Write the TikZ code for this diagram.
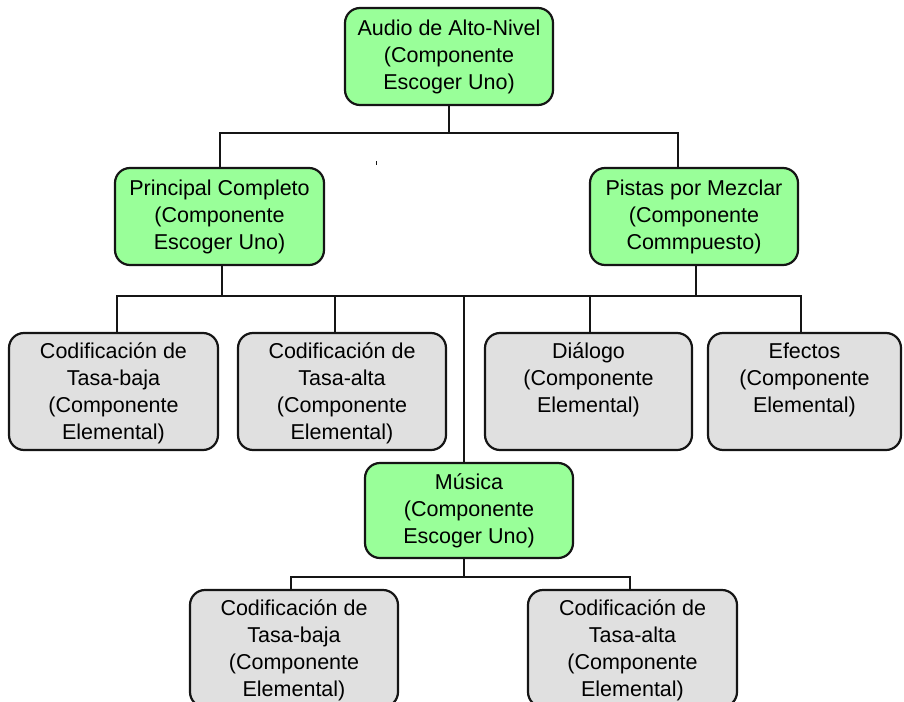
\documentclass[tikz,border=0pt]{standalone}
\usepackage{fontspec}
\setmainfont{Liberation Sans}
\usetikzlibrary{calc}
\definecolor{choicegreen}{HTML}{99FF99}
\definecolor{elemgray}{HTML}{E0E0E0}
\definecolor{ink}{HTML}{151515}
\begin{document}
\begin{tikzpicture}[x=1pt,y=-1pt,
  box/.style={draw=ink, line width=2.2pt, rounded corners=15pt, inner sep=0pt},
  choice/.style={box, fill=choicegreen, align=center,
    font=\fontsize{21.5}{27}\selectfont},
  elem/.style={box, fill=elemgray},
  boxtext/.style={align=center, inner sep=0pt, anchor=north,
    font=\fontsize{21.5}{27}\selectfont},
  wire/.style={draw=ink, line width=2.1pt}]
\useasboundingbox (0,0) rectangle (904,701);
\clip (0,0) rectangle (904,701);

% choice (green) components
\node[choice, minimum width=208, minimum height=97] (top) at (449,56.5)
  {Audio de Alto-Nivel\\(Componente\\Escoger Uno)};
\node[choice, minimum width=209, minimum height=97] (pc) at (219.5,216.5)
  {Principal Completo\\(Componente\\Escoger Uno)};
\node[choice, minimum width=208, minimum height=97] (pm) at (694,216.5)
  {Pistas por Mezclar\\(Componente\\Commpuesto)};
\node[choice, minimum width=208, minimum height=95] (mus) at (469,510.5)
  {Música\\(Componente\\Escoger Uno)};

% elementary (gray) components
\node[elem, minimum width=209, minimum height=117] (lo1) at (113.5,391.5) {};
\node[elem, minimum width=208, minimum height=117] (hi1) at (342,391.5) {};
\node[elem, minimum width=207, minimum height=117] (dia) at (588.5,391.5) {};
\node[elem, minimum width=193, minimum height=117] (efe) at (804.5,391.5) {};
\node[elem, minimum width=208, minimum height=117] (lo2) at (294,648.5) {};
\node[elem, minimum width=209, minimum height=117] (hi2) at (632.5,648.5) {};

\node[boxtext] (lo1t) at ($(lo1.north)+(0,10.5)$)
  {Codificación de\\Tasa-baja\\(Componente\\Elemental)};
\node[boxtext] (hi1t) at ($(hi1.north)+(0,10.5)$)
  {Codificación de\\Tasa-alta\\(Componente\\Elemental)};
\node[boxtext] (diat) at ($(dia.north)+(0,10.5)$)
  {Diálogo\\(Componente\\Elemental)};
\node[boxtext] (efet) at ($(efe.north)+(0,10.5)$)
  {Efectos\\(Componente\\Elemental)};
\node[boxtext] (lo2t) at ($(lo2.north)+(0,10.5)$)
  {Codificación de\\Tasa-baja\\(Componente\\Elemental)};
\node[boxtext] (hi2t) at ($(hi2.north)+(0,10.5)$)
  {Codificación de\\Tasa-alta\\(Componente\\Elemental)};

% bus levels
\coordinate (busA) at (0,133);
\coordinate (busB) at (0,296);
\coordinate (busC) at (0,577);

% attachment points on the boxes
\coordinate (pcIn)  at ([xshift=0.5pt]pc.north);
\coordinate (pmIn)  at ([xshift=-16pt]pm.north);
\coordinate (pcOut) at ([xshift=2.5pt]pc.south);
\coordinate (pmOut) at ([xshift=2pt]pm.south);
\coordinate (lo1In) at ([xshift=3.5pt]lo1.north);
\coordinate (hi1In) at ([xshift=-7pt]hi1.north);
\coordinate (musIn) at ([xshift=-5pt]mus.north);
\coordinate (diaIn) at ([xshift=1.5pt]dia.north);
\coordinate (efeIn) at ([xshift=-3.5pt]efe.north);
\coordinate (musOut) at ([xshift=-5pt]mus.south);
\coordinate (lo2In) at ([xshift=-3pt]lo2.north);
\coordinate (hi2In) at ([xshift=-2.5pt]hi2.north);

% top level
\draw[wire] (top.south) -- (top.south |- busA);
\draw[wire] (pcIn) -- (pcIn |- busA) -- (pmIn |- busA) -- (pmIn);

% second level
\draw[wire] (pcOut) -- (pcOut |- busB);
\draw[wire] (pmOut) -- (pmOut |- busB);
\draw[wire] (lo1In) -- (lo1In |- busB) -- (efeIn |- busB) -- (efeIn);
\draw[wire] (hi1In) -- (hi1In |- busB);
\draw[wire] (musIn) -- (musIn |- busB);
\draw[wire] (diaIn) -- (diaIn |- busB);

% music level
\draw[wire] (musOut) -- (musOut |- busC);
\draw[wire] (lo2In) -- (lo2In |- busC) -- (hi2In |- busC) -- (hi2In);

% small stray mark
\fill[ink] (375.5,160.5) rectangle (377,164.5);
\end{tikzpicture}
\end{document}
